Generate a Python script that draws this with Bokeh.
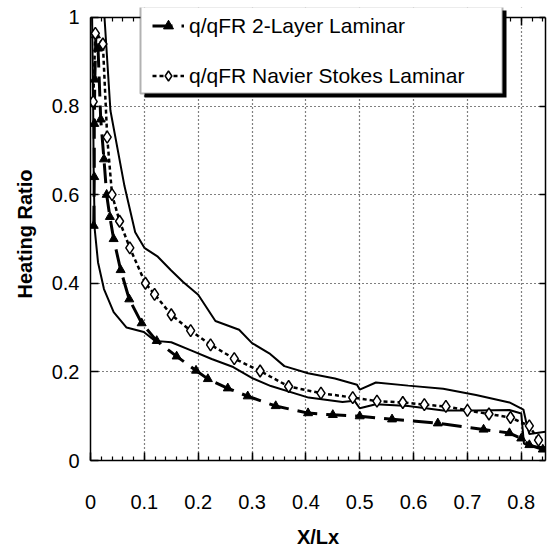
import numpy as np
from bokeh.plotting import figure
from bokeh.models import (Range1d, FixedTicker, LinearAxis, Legend, LegendItem, BoxAnnotation)
from bokeh.embed import file_html
from bokeh.resources import INLINE

# ---- data ----
# q/qFR 2-Layer Laminar (dashed, filled triangles)
tri_x = [0.006, 0.007, 0.007, 0.008, 0.010, 0.014, 0.019, 0.025, 0.030, 0.036, 0.043, 0.056,
         0.072, 0.095, 0.123, 0.160, 0.196, 0.218, 0.255, 0.292, 0.344, 0.404, 0.450, 0.500,
         0.560, 0.645, 0.730, 0.778, 0.800, 0.815, 0.840]
tri_y = [0.53, 0.64, 0.76, 0.86, 0.96, 0.93, 0.77, 0.68, 0.60, 0.55, 0.50, 0.43,
         0.364, 0.31, 0.27, 0.235, 0.203, 0.184, 0.163, 0.145, 0.123, 0.107, 0.103, 0.100,
         0.093, 0.084, 0.070, 0.062, 0.050, 0.035, 0.025]

# q/qFR Navier Stokes Laminar (dotted, open diamonds)
ns_x = [0.005, 0.009, 0.023, 0.031, 0.040, 0.054, 0.073, 0.102, 0.119, 0.150, 0.186, 0.223,
        0.267, 0.315, 0.368, 0.428, 0.487, 0.532, 0.580, 0.620, 0.660, 0.700, 0.740, 0.780,
        0.815, 0.832]
ns_y = [0.81, 0.964, 0.94, 0.73, 0.60, 0.54, 0.48, 0.40, 0.375, 0.329, 0.293, 0.261,
        0.230, 0.202, 0.167, 0.152, 0.142, 0.134, 0.131, 0.126, 0.122, 0.113, 0.105, 0.097,
        0.078, 0.046]

# upper solid curve
up_x = [0.026, 0.037, 0.063, 0.083, 0.100, 0.125, 0.149, 0.172, 0.200, 0.232, 0.276, 0.300,
        0.332, 0.360, 0.404, 0.454, 0.495, 0.500, 0.530, 0.590, 0.655, 0.716, 0.778, 0.804,
        0.810, 0.815, 0.845]
up_y = [1.0, 0.79, 0.62, 0.515, 0.48, 0.46, 0.43, 0.403, 0.374, 0.315, 0.295, 0.265,
        0.242, 0.213, 0.197, 0.185, 0.171, 0.160, 0.176, 0.169, 0.162, 0.148, 0.131, 0.115,
        0.082, 0.060, 0.065]

# lower solid curve
lo_x = [0.003, 0.005, 0.006, 0.008, 0.014, 0.025, 0.043, 0.067, 0.099, 0.120, 0.150, 0.190,
        0.225, 0.265, 0.302, 0.335, 0.405, 0.468, 0.490, 0.500, 0.530, 0.590, 0.655, 0.716,
        0.778, 0.800, 0.805, 0.815, 0.845]
lo_y = [1.0, 0.79, 0.64, 0.52, 0.447, 0.387, 0.335, 0.300, 0.290, 0.270, 0.267, 0.247,
        0.229, 0.211, 0.185, 0.168, 0.142, 0.132, 0.135, 0.118, 0.127, 0.123, 0.113, 0.113,
        0.114, 0.106, 0.038, 0.032, 0.030]

x_ticks = [0, 0.1, 0.2, 0.3, 0.4, 0.5, 0.6, 0.7, 0.8]
x_tick_labels = ["0", "0.1", "0.2", "0.3", "0.4", "0.5", "0.6", "0.7", "0.8"]
y_ticks = [0, 0.2, 0.4, 0.6, 0.8, 1]
y_tick_labels = ["0", "0.2", "0.4", "0.6", "0.8", "1"]

label_tri = "q/qFR 2-Layer Laminar"
label_ns = "q/qFR Navier Stokes Laminar"

FONT = "Liberation Sans"
X_MAX = 0.845
Y_MAX = 1.0

# frame is 455 px tall; data y = 1 sits 10 px below the frame top so the legend can rise above it
p = figure(width=550, height=550, x_range=Range1d(0, X_MAX), y_range=Range1d(0, Y_MAX * 455 / 445),
           output_backend="svg", toolbar_location=None,
           min_border_left=90, min_border_right=5, min_border_top=7, min_border_bottom=88)
p.background_fill_color = "white"
p.border_fill_color = "white"
p.outline_line_color = None

minor_x = [round(v, 2) for v in np.arange(0, X_MAX + 0.001, 0.02)]

# bottom / left axes
xa = p.xaxis[0]
xa.ticker = FixedTicker(ticks=x_ticks, minor_ticks=minor_x)
xa.major_label_overrides = {t: l for t, l in zip(x_ticks, x_tick_labels)}
xa.axis_label = "X/Lx"
ya = p.yaxis[0]
ya.ticker = FixedTicker(ticks=y_ticks)
ya.major_label_overrides = {t: l for t, l in zip(y_ticks, y_tick_labels)}
ya.axis_label = "Heating Ratio"
ya.bounds = (0, Y_MAX)

for ax in (xa, ya):
    ax.axis_line_width = 1.5
    ax.axis_line_color = "black"
    ax.major_tick_in = 8
    ax.major_tick_out = 0
    ax.minor_tick_in = 4
    ax.minor_tick_out = 0
    ax.major_tick_line_width = 1.5
    ax.minor_tick_line_width = 1.2
    ax.major_label_text_font = FONT
    ax.major_label_text_font_size = "20px"
    ax.major_label_text_color = "black"
    ax.axis_label_text_font = FONT
    ax.axis_label_text_font_size = "20px"
    ax.axis_label_text_font_style = "bold"
    ax.axis_label_text_color = "black"
xa.major_label_standoff = 34
xa.axis_label_standoff = 14
ya.major_label_standoff = 11
ya.axis_label_standoff = 13

# top axis drawn at y = 1, right axis limited to 0..1 (tick marks only)
top = LinearAxis(ticker=FixedTicker(ticks=x_ticks, minor_ticks=minor_x),
                 major_label_overrides={t: "" for t in x_ticks},
                 fixed_location=Y_MAX,
                 major_tick_in=8, major_tick_out=0,
                 minor_tick_in=4, minor_tick_out=0, axis_line_width=1.5,
                 major_tick_line_width=1.5, minor_tick_line_width=1.2, major_label_standoff=0)
right = LinearAxis(ticker=FixedTicker(ticks=y_ticks), bounds=(0, Y_MAX),
                   major_label_overrides={t: "" for t in y_ticks},
                   major_tick_in=6, major_tick_out=0,
                   minor_tick_in=0, minor_tick_out=0, axis_line_width=1.5,
                   major_tick_line_width=1.5, major_label_standoff=0)
p.add_layout(top, "above")
p.add_layout(right, "right")

# grids
p.xgrid.ticker = FixedTicker(ticks=x_ticks)
p.ygrid.ticker = FixedTicker(ticks=y_ticks)
for g in (p.xgrid, p.ygrid):
    g.grid_line_color = "black"
    g.grid_line_dash = "1 3"
    g.grid_line_width = 1.2

# curves
p.line(up_x, up_y, line_color="black", line_width=2)
p.line(lo_x, lo_y, line_color="black", line_width=2)
r_tri_line = p.line(tri_x, tri_y, line_color="black", line_width=3, line_dash="20 9")
r_tri_pts = p.scatter(tri_x, tri_y, marker="triangle", size=9, fill_color="black",
                      line_color="black")
r_ns_line = p.line(ns_x, ns_y, line_color="black", line_width=2.5, line_dash="4 3")
r_ns_pts = p.scatter(ns_x, ns_y, marker="diamond", size=12, fill_color="white",
                     line_color="black", line_width=1.5)

# blank strip above y = 1 (outside the original frame)
p.add_layout(BoxAnnotation(bottom=Y_MAX, fill_color="white", fill_alpha=1, line_color=None,
                           level="glyph"))

# legend box with drop shadow
shadow = BoxAnnotation(left=54, right=416, bottom=363, top=450,
                       left_units="screen", right_units="screen",
                       bottom_units="screen", top_units="screen",
                       fill_color="black", fill_alpha=1, line_color=None)
box = BoxAnnotation(left=50, right=412, bottom=367, top=454,
                    left_units="screen", right_units="screen",
                    bottom_units="screen", top_units="screen",
                    fill_color="white", fill_alpha=1, line_color="black", line_width=2)
p.add_layout(shadow)
p.add_layout(box)

legend = Legend(items=[LegendItem(label=label_tri, renderers=[r_tri_line, r_tri_pts]),
                       LegendItem(label=label_ns, renderers=[r_ns_line, r_ns_pts])],
                location=(62, 372))
legend.label_text_font = FONT
legend.label_text_font_size = "21px"
legend.label_text_color = "black"
legend.border_line_color = None
legend.background_fill_alpha = 0
legend.padding = 6
legend.margin = 0
legend.spacing = 25
legend.label_height = 25
legend.glyph_height = 25
legend.glyph_width = 32
legend.label_standoff = 5
p.add_layout(legend, "center")

open("out.html", "w").write(file_html(p, INLINE))
